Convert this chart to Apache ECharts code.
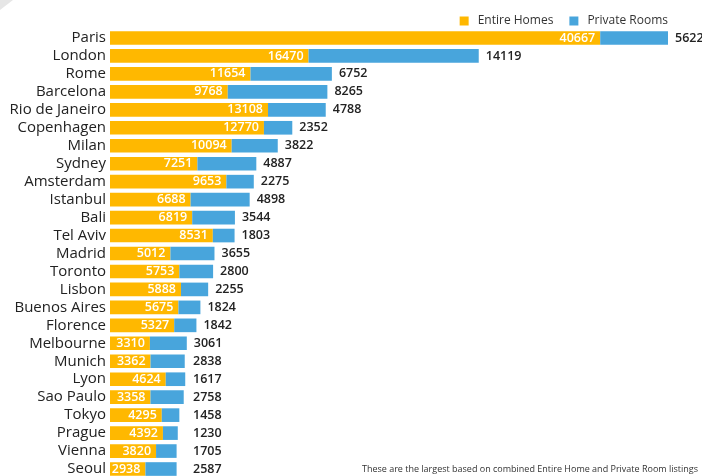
<!DOCTYPE html>
<html><head><meta charset="utf-8">
<script src="https://cdn.jsdelivr.net/npm/echarts@6/dist/echarts.min.js"></script>
<style>html,body{margin:0;padding:0;background:#fff;overflow:hidden}#c{width:702px;height:480px}</style>
</head><body><div id="c"></div>
<script>
const cities = ["Paris","London","Rome","Barcelona","Rio de Janeiro","Copenhagen","Milan","Sydney","Amsterdam","Istanbul","Bali","Tel Aviv","Madrid","Toronto","Lisbon","Buenos Aires","Florence","Melbourne","Munich","Lyon","Sao Paulo","Tokyo","Prague","Vienna","Seoul"];
const entireHomes = [40667,16470,11654,9768,13108,12770,10094,7251,9653,6688,6819,8531,5012,5753,5888,5675,5327,3310,3362,4624,3358,4295,4392,3820,2938];
const privateRooms = [5622,14119,6752,8265,4788,2352,3822,4887,2275,4898,3544,1803,3655,2800,2255,1824,1842,3061,2838,1617,2758,1458,1230,1705,2587];
const seriesNames = ["Entire Homes","Private Rooms"];
const footnote = "These are the largest based on combined Entire Home and Private Room listings";

const chart = echarts.init(document.getElementById('c'), null, {renderer:'canvas'});
const font = "'Open Sans', 'Noto Sans', sans-serif";
const option = {
  animation:false,
  textStyle:{fontFamily:font},
  graphic:[
    {type:'polygon', shape:{points:[[0,0],[13,0],[0,10]]}, style:{fill:'#e6e6e6'}},
    {type:'text', right:4, top:465, z:10, style:{text:footnote, font:"9px "+font, fill:'#333'}}
  ],
  legend:{
    top:10, right:29, itemWidth:9, itemHeight:9, itemGap:16, icon:'rect',
    textStyle:{fontSize:12, color:'#333', fontFamily:font, padding:[0,0,0,4]},
    data:seriesNames
  },
  grid:{left:110, top:29, height:449, width:558, containLabel:false},
  xAxis:{type:'value', min:0, max:function(v){return v.max;}, show:false},
  yAxis:{type:'category', inverse:true, data:cities,
    axisLine:{show:false}, axisTick:{show:false},
    axisLabel:{interval:0, fontSize:15, color:'#222', margin:4, fontFamily:font}},
  series:[
    {name:seriesNames[0], type:'bar', stack:'t', data:entireHomes, barCategoryGap:'24%',
     itemStyle:{color:'#FFB800'},
     label:{show:true, position:'insideRight', distance:5, color:'#fff', fontSize:12.5, fontWeight:600, fontFamily:font}},
    {name:seriesNames[1], type:'bar', stack:'t', data:privateRooms,
     itemStyle:{color:'#48A5DC'},
     label:{show:true, position:'right', distance:6, color:'#222', fontSize:12.5, fontWeight:600, fontFamily:font}}
  ]
};
chart.setOption(option);
// private-room labels sit right of the bar, but never left of a minimum column
const minLabelX = chart.convertToPixel({xAxisIndex:0}, 0) + 83;
const prData = privateRooms.map(function(v, i){
  const end = chart.convertToPixel({xAxisIndex:0}, v + entireHomes[i]);
  return {value:v, label:{distance:Math.max(7, minLabelX - end)}};
});
chart.setOption({series:[{}, {data:prData}]});
</script></body></html>
